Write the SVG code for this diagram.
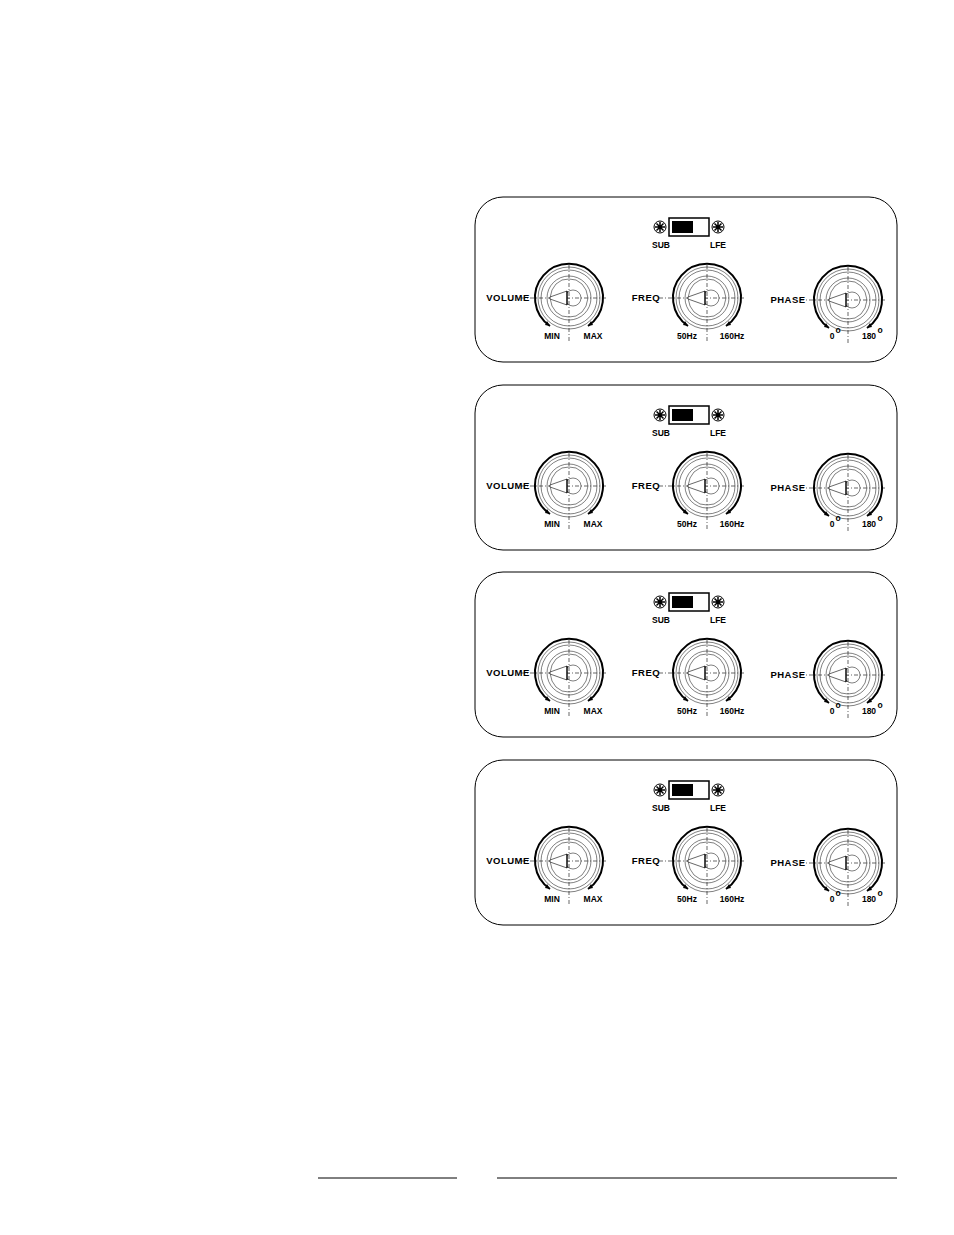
<svg xmlns="http://www.w3.org/2000/svg" xmlns:xlink="http://www.w3.org/1999/xlink" width="954" height="1235" viewBox="0 0 954 1235">
<style>
.panel{fill:#fff;stroke:#000;stroke-width:1}
.t{font-family:"Liberation Sans",Arial,sans-serif;font-weight:bold;font-size:8.5px;fill:#000}
.tl{font-family:"Liberation Sans",Arial,sans-serif;font-weight:bold;font-size:9.5px;fill:#000;letter-spacing:0.5px}
.thin{fill:none;stroke:#000;stroke-width:0.5}
.dash{fill:none;stroke:#000;stroke-width:0.6;stroke-dasharray:4 2 1 2}
</style>
<defs>
<g id="knob">
<line class="dash" x1="-48" y1="0" x2="38" y2="0"/>
<line class="dash" x1="0" y1="-33" x2="0" y2="45"/>
<path d="M-19,28 A34,34 0 1 1 19,28" fill="none" stroke="#000" stroke-width="2"/>
<path d="M-19,28 l-5,-1 l2,-4 z M19,28 l5,-1 l-2,-4 z" fill="#000"/>
<circle class="thin" r="31"/>
<circle class="thin" r="28"/>
<circle class="thin" r="22"/>
<polygon class="thin" points="0,-19 7,-18 13,-14 17,-8 19,0 17,8 13,14 7,18 0,19 -7,18 -13,14 -17,8 -19,0 -17,-8 -13,-14 -7,-18"/>
<circle class="thin" cx="4" cy="0" r="8"/>
<path d="M-19,-1 L-2,-7 L-2,7 L-19,1 Z" fill="#fff" stroke="#000" stroke-width="0.6"/>
<line x1="-2" y1="-7" x2="-2" y2="7" stroke="#000" stroke-width="1.2"/>
</g>
<g id="screw">
<circle r="6" fill="#fff" stroke="#000" stroke-width="1"/>
<path d="M-5,0 H5 M0,-5 V5 M-3.5,-3.5 L3.5,3.5 M-3.5,3.5 L3.5,-3.5" stroke="#000" stroke-width="1.5"/>
</g>
<g id="panelContent">
<rect class="panel" x="475" y="197" width="422" height="165" rx="28"/>
<use xlink:href="#screw" x="660" y="227"/>
<use xlink:href="#screw" x="718" y="227"/>
<rect x="669" y="218" width="40" height="18" fill="#fff" stroke="#000" stroke-width="1.5"/>
<rect x="672" y="221" width="21" height="12" fill="#000"/>
<text class="t" x="661" y="248" text-anchor="middle">SUB</text>
<text class="t" x="718" y="248" text-anchor="middle">LFE</text>
<use xlink:href="#knob" x="569" y="298"/>
<use xlink:href="#knob" x="707" y="298"/>
<use xlink:href="#knob" x="848" y="300"/>
<text class="tl" x="508" y="301" text-anchor="middle">VOLUME</text>
<text class="tl" x="646" y="301" text-anchor="middle">FREQ</text>
<text class="tl" x="788" y="303" text-anchor="middle">PHASE</text>
<text class="t" x="552" y="339" text-anchor="middle">MIN</text>
<text class="t" x="593" y="339" text-anchor="middle">MAX</text>
<text class="t" x="687" y="339" text-anchor="middle">50Hz</text>
<text class="t" x="732" y="339" text-anchor="middle">160Hz</text>
<text class="t" x="832" y="339" text-anchor="middle">0</text>
<text class="t" x="838" y="333" text-anchor="middle" font-size="6">o</text>
<text class="t" x="869" y="339" text-anchor="middle">180</text>
<text class="t" x="880" y="333" text-anchor="middle" font-size="6">o</text>
</g>
</defs>
<rect width="954" height="1235" fill="#fff"/>
<g id="panel1"><use xlink:href="#panelContent"/></g>
<g id="panel2"><use xlink:href="#panelContent" y="188"/></g>
<g id="panel3"><use xlink:href="#panelContent" y="375"/></g>
<g id="panel4"><use xlink:href="#panelContent" y="563"/></g>
<g id="connectors"></g>
<line x1="318" y1="1178" x2="457" y2="1178" stroke="#000" stroke-width="1"/>
<line x1="497" y1="1178" x2="897" y2="1178" stroke="#000" stroke-width="1"/>
</svg>
